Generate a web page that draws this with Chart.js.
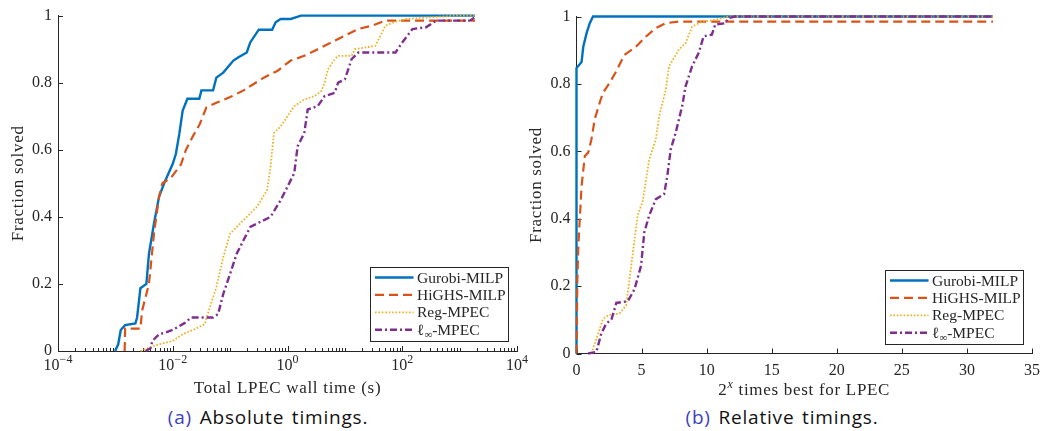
<!DOCTYPE html>
<html>
<head>
<meta charset="utf-8">
<script src="https://cdn.jsdelivr.net/npm/chart.js@4.4.1/dist/chart.umd.min.js"></script>
<style>
  html, body { margin: 0; padding: 0; background: #fff; width: 1048px; height: 431px; overflow: hidden; }
  .panel { position: absolute; top: 0; height: 400px; }
  .cap { position: absolute; top: 408px; transform: translateX(-50%); font-family: "Open Sans", sans-serif;
         font-size: 19px; line-height: 19px; color: #111; white-space: nowrap; letter-spacing: 0.8px; word-spacing: 2px; }
  .cap span { color: #3d3dbf; }
</style>
</head>
<body>
<div class="panel" style="left:0;width:540px"><canvas id="absChart" width="540" height="400"></canvas></div>
<div class="panel" style="left:524px;width:524px"><canvas id="relChart" width="524" height="400"></canvas></div>
<div class="cap" style="left:268px"><span>(a)</span> Absolute timings.</div>
<div class="cap" style="left:782px"><span>(b)</span> Relative timings.</div>
<script>
// ---- series names and tick labels ----
const seriesNames = ['Gurobi-MILP', 'HiGHS-MILP', 'Reg-MPEC', 'ℓ∞-MPEC'];
const fracTickValues = [0, 0.2, 0.4, 0.6, 0.8, 1];
const fracTickLabels = ['0', '0.2', '0.4', '0.6', '0.8', '1'];
const timeLabelExponents = [-4, -2, 0, 2, 4];
const ratioTickValues = [0, 5, 10, 15, 20, 25, 30, 35];
const ratioTickLabels = ['0', '5', '10', '15', '20', '25', '30', '35'];

// ---- (a) fraction solved vs. total LPEC wall time (s) ----
const gurobiAbsTime = [0.00099, 0.00112, 0.00124, 0.00148, 0.00223, 0.00239, 0.00273, 0.00347, 0.00385, 0.00471, 0.00577, 0.00708, 0.0100, 0.01135, 0.01303, 0.0149, 0.0180, 0.0290, 0.0316, 0.0505, 0.0575, 0.0759, 0.114, 0.140, 0.195, 0.224, 0.316, 0.540, 0.621, 0.762, 1.14, 1.72, 1862];
const gurobiAbsFrac = [0, 0.02, 0.0625, 0.077, 0.082, 0.10, 0.187, 0.20, 0.29, 0.38, 0.46, 0.50, 0.558, 0.588, 0.648, 0.717, 0.752, 0.752, 0.777, 0.777, 0.815, 0.83, 0.866, 0.876, 0.89, 0.92, 0.958, 0.958, 0.98, 0.99, 0.99, 1.0, 1.0];

const highsAbsTime = [0.00145, 0.00148, 0.00273, 0.00292, 0.00385, 0.00471, 0.00577, 0.0066, 0.00925, 0.0139, 0.0170, 0.0224, 0.0295, 0.0385, 0.0575, 0.100, 0.171, 0.386, 0.664, 1.14, 1.96, 3.37, 5.82, 10.0, 17.2, 29.6, 50.9, 1862];
const highsAbsFrac = [0, 0.067, 0.067, 0.12, 0.20, 0.35, 0.46, 0.50, 0.516, 0.556, 0.60, 0.64, 0.676, 0.726, 0.74, 0.757, 0.777, 0.815, 0.835, 0.866, 0.88, 0.90, 0.92, 0.94, 0.96, 0.97, 0.985, 0.985];

const regAbsTime = [0.00273, 0.00385, 0.00577, 0.0100, 0.0149, 0.0256, 0.0360, 0.0442, 0.0575, 0.0759, 0.100, 0.130, 0.195, 0.294, 0.442, 0.507, 0.580, 0.762, 1.00, 1.31, 1.96, 2.95, 3.87, 4.44, 5.07, 6.65, 7.62, 13.1, 15.0, 33.9, 44.5, 50.9, 71.4, 115, 871, 1862];
const regAbsFrac = [0, 0.01, 0.02, 0.03, 0.05, 0.067, 0.08, 0.13, 0.19, 0.28, 0.35, 0.37, 0.40, 0.43, 0.48, 0.55, 0.65, 0.67, 0.70, 0.73, 0.75, 0.76, 0.775, 0.80, 0.84, 0.87, 0.88, 0.88, 0.90, 0.91, 0.95, 0.97, 0.98, 0.99, 1.0, 1.0];

const linfAbsTime = [0.00335, 0.0041, 0.0044, 0.00577, 0.00755, 0.0100, 0.0160, 0.0209, 0.0505, 0.0617, 0.0759, 0.100, 0.130, 0.171, 0.225, 0.294, 0.507, 0.762, 1.00, 1.31, 1.50, 1.96, 2.25, 3.37, 4.44, 6.65, 7.62, 10.0, 13.1, 17.2, 76.4, 100, 151, 259, 389, 1507, 1850];
const linfAbsFrac = [0, 0.008, 0.03, 0.05, 0.055, 0.063, 0.083, 0.10, 0.10, 0.11, 0.17, 0.23, 0.29, 0.33, 0.37, 0.38, 0.40, 0.45, 0.49, 0.53, 0.61, 0.65, 0.72, 0.73, 0.76, 0.77, 0.80, 0.81, 0.87, 0.89, 0.89, 0.92, 0.96, 0.965, 0.985, 0.985, 0.995];

// ---- (b) fraction solved vs. log2 ratio to the best time ----
const gurobiRelX = [0, 0, 0.39, 0.52, 0.77, 1.02, 1.27, 32];
const gurobiRelY = [0, 0.847, 0.865, 0.91, 0.95, 0.98, 1.0, 1.0];

const highsRelX = [0, 0.06, 0.14, 0.39, 0.64, 0.9, 1.15, 1.4, 1.78, 2.03, 2.54, 3.05, 3.68, 4.56, 5.32, 6.08, 6.84, 7.87, 32];
const highsRelY = [0, 0.21, 0.32, 0.497, 0.586, 0.596, 0.636, 0.695, 0.744, 0.773, 0.803, 0.837, 0.886, 0.91, 0.94, 0.965, 0.98, 0.985, 0.985];

const regRelX = [1.15, 1.53, 2.04, 2.5, 3.3, 3.82, 4.2, 4.7, 5.08, 5.59, 6.1, 6.35, 6.86, 7.11, 7.87, 8.38, 8.88, 9.64, 10.66, 11.67, 32];
const regRelY = [0, 0.044, 0.103, 0.115, 0.118, 0.143, 0.26, 0.41, 0.45, 0.576, 0.636, 0.704, 0.783, 0.852, 0.902, 0.921, 0.97, 0.985, 0.99, 1.0, 1.0];

const linfRelX = [0.9, 1.53, 1.91, 2.3, 2.68, 3.06, 3.94, 4.45, 4.96, 5.21, 5.59, 6.1, 6.73, 6.98, 7.24, 7.62, 8.12, 8.38, 8.88, 9.39, 9.77, 10.4, 10.66, 11.42, 11.67, 12.18, 32];
const linfRelY = [0, 0.005, 0.06, 0.09, 0.1, 0.15, 0.155, 0.19, 0.26, 0.36, 0.41, 0.458, 0.473, 0.527, 0.606, 0.655, 0.734, 0.793, 0.852, 0.892, 0.941, 0.946, 0.976, 0.98, 0.995, 1.0, 1.0];

// ---- styling ----
const ink = '#262626';
const serif = '"Liberation Serif", "Times New Roman", serif';
const lineStyles = [
  { borderColor: '#0072BD', borderWidth: 2.4, borderDash: [] },
  { borderColor: '#D95319', borderWidth: 2.2, borderDash: [9, 5] },
  { borderColor: '#EDB120', borderWidth: 1.8, borderDash: [1.6, 1.8] },
  { borderColor: '#7E2F8E', borderWidth: 2.4, borderDash: [7, 3, 2, 3] }
];

Chart.defaults.font.family = serif;
Chart.defaults.color = ink;

function pairs(xs, ys) { return xs.map((x, i) => ({ x: x, y: ys[i] })); }

function makeDatasets(seriesData) {
  return seriesData.map((d, i) => Object.assign({
    label: seriesNames[i],
    data: d,
    pointRadius: 0,
    tension: 0,
    fill: false,
    borderCapStyle: 'butt',
    clip: 5,
    order: seriesData.length - i
  }, lineStyles[i]));
}

function fontOf(size, italic) { return (italic ? 'italic ' : '') + size + 'px ' + serif; }

function runsWidth(ctx, runs) {
  let w = 0;
  for (const r of runs) { ctx.font = fontOf(r.size, r.italic); w += ctx.measureText(r.text).width; }
  return w;
}

function drawRuns(ctx, runs, x, baseline, align) {
  const w = runsWidth(ctx, runs);
  let cx = align === 'center' ? x - w / 2 : x;
  for (const r of runs) {
    ctx.font = fontOf(r.size, r.italic);
    ctx.fillText(r.text, cx, baseline + (r.dy || 0));
    cx += ctx.measureText(r.text).width;
  }
}

function legendRuns(label, size) {
  if (label.startsWith('ℓ∞')) {
    return [{ text: 'ℓ', size: size }, { text: '∞', size: size * 0.7, dy: 3 }, { text: label.slice(2), size: size }];
  }
  return [{ text: label, size: size }];
}

// inward ticks, log-axis labels, axis titles and the boxed legend
const panelDecor = {
  id: 'panelDecor',
  beforeDatasetsDraw(chart, _args, o) {
    const ctx = chart.ctx, a = chart.chartArea;
    const xs = chart.scales.x, ys = chart.scales.y;
    ctx.save();
    ctx.strokeStyle = ink;
    ctx.lineWidth = 1;
    ctx.beginPath();
    for (const v of fracTickValues) {
      const py = Math.round(ys.getPixelForValue(v)) + 0.5;
      ctx.moveTo(a.left, py); ctx.lineTo(a.left + 5, py);
    }
    for (const t of o.xTicks) {
      const px = Math.round(xs.getPixelForValue(t.value)) + 0.5;
      ctx.moveTo(px, a.bottom); ctx.lineTo(px, a.bottom - t.len);
    }
    ctx.stroke();

    ctx.fillStyle = ink;
    ctx.textBaseline = 'alphabetic';
    if (o.logLabels) {
      for (const e of timeLabelExponents) {
        const px = xs.getPixelForValue(Math.pow(10, e));
        const exp = e < 0 ? '\u2212' + (-e) : String(e);
        drawRuns(ctx, [{ text: '10', size: 16 }, { text: exp, size: 12, dy: -7 }], px, a.bottom + 19, 'center');
      }
    }
    ctx.letterSpacing = '0.7px';
    drawRuns(ctx, o.xTitle, (a.left + a.right) / 2, a.bottom + 41.5, 'center');
    ctx.translate(a.left - 35.3, (a.top + a.bottom) / 2);
    ctx.rotate(-Math.PI / 2);
    drawRuns(ctx, [{ text: 'Fraction solved', size: 17 }], 0, 0, 'center');
    ctx.restore();
  },
  afterDatasetsDraw(chart) {
    const ctx = chart.ctx, a = chart.chartArea;
    const w = 138, h = 74;
    const bx = Math.round(a.right - 9.5 - w) + 0.5, by = Math.round(a.bottom - 9.7 - h) + 0.5;
    ctx.save();
    ctx.fillStyle = '#fff';
    ctx.fillRect(bx, by, w, h);
    ctx.strokeStyle = ink;
    ctx.lineWidth = 1;
    ctx.strokeRect(bx, by, w, h);
    chart.data.datasets.forEach((ds, i) => {
      const cy = by + 10 + i * 17.4;
      ctx.strokeStyle = ds.borderColor;
      ctx.lineWidth = ds.borderWidth;
      ctx.setLineDash(ds.borderDash);
      ctx.beginPath();
      ctx.moveTo(bx + 4.5, cy); ctx.lineTo(bx + 43, cy);
      ctx.stroke();
      ctx.setLineDash([]);
      ctx.fillStyle = ink;
      ctx.textBaseline = 'alphabetic';
      drawRuns(ctx, legendRuns(ds.label, 15.5), bx + 46.5, cy + 5, 'left');
    });
    ctx.restore();
  }
};

function fracAxis(width) {
  return {
    type: 'linear', min: 0, max: 1,
    afterBuildTicks: s => { s.ticks = fracTickValues.map(v => ({ value: v })); },
    afterFit: s => { s.width = width; },
    ticks: { font: { size: 16, family: serif }, color: ink, padding: 6, callback: (v, i) => fracTickLabels[i] },
    grid: { display: false, drawTicks: false },
    border: { display: true, color: ink, width: 1 }
  };
}

// log-axis tick marks: long at labelled decades, short elsewhere
const logTicks = [];
for (let e = -4; e < 4; e++) {
  for (let k = 1; k <= 9; k++) {
    logTicks.push({ value: k * Math.pow(10, e), len: (k === 1 && e % 2 === 0) ? 5 : 3 });
  }
}
logTicks.push({ value: 1e4, len: 5 });

new Chart(document.getElementById('absChart'), {
  type: 'line',
  data: {
    datasets: makeDatasets([
      pairs(gurobiAbsTime, gurobiAbsFrac),
      pairs(highsAbsTime, highsAbsFrac),
      pairs(regAbsTime, regAbsFrac),
      pairs(linfAbsTime, linfAbsFrac)
    ])
  },
  options: {
    responsive: false, animation: false, devicePixelRatio: 1,
    layout: { padding: { top: 15, right: 23, left: 0, bottom: 0 } },
    scales: {
      x: {
        type: 'logarithmic', min: 1e-4, max: 1e4,
        afterFit: s => { s.height = 49; },
        ticks: { display: false },
        grid: { display: false, drawTicks: false },
        border: { display: true, color: ink, width: 1 }
      },
      y: fracAxis(58)
    },
    plugins: {
      legend: { display: false },
      tooltip: { enabled: false },
      panelDecor: {
        logLabels: true,
        xTicks: logTicks,
        xTitle: [{ text: 'Total LPEC wall time (s)', size: 17 }]
      }
    }
  },
  plugins: [panelDecor]
});

new Chart(document.getElementById('relChart'), {
  type: 'line',
  data: {
    datasets: makeDatasets([
      pairs(gurobiRelX, gurobiRelY),
      pairs(highsRelX, highsRelY),
      pairs(regRelX, regRelY),
      pairs(linfRelX, linfRelY)
    ])
  },
  options: {
    responsive: false, animation: false, devicePixelRatio: 1,
    layout: { padding: { top: 16.5, right: 10, left: 0, bottom: 0 } },
    scales: {
      x: {
        type: 'linear', min: 0, max: 35,
        afterBuildTicks: s => { s.ticks = ratioTickValues.map(v => ({ value: v })); },
        afterFit: s => { s.height = 46.5; },
        ticks: { font: { size: 16, family: serif }, color: ink, padding: 8, maxRotation: 0, autoSkip: false,
                 callback: (v, i) => ratioTickLabels[i] },
        grid: { display: false, drawTicks: false },
        border: { display: true, color: ink, width: 1 }
      },
      y: fracAxis(52.5)
    },
    plugins: {
      legend: { display: false },
      tooltip: { enabled: false },
      panelDecor: {
        logLabels: false,
        xTicks: ratioTickValues.map(v => ({ value: v, len: 5 })),
        xTitle: [{ text: '2', size: 17 }, { text: 'x', size: 12, italic: true, dy: -7 }, { text: ' times best for LPEC', size: 17 }]
      }
    }
  },
  plugins: [panelDecor]
});
</script>
</body>
</html>
